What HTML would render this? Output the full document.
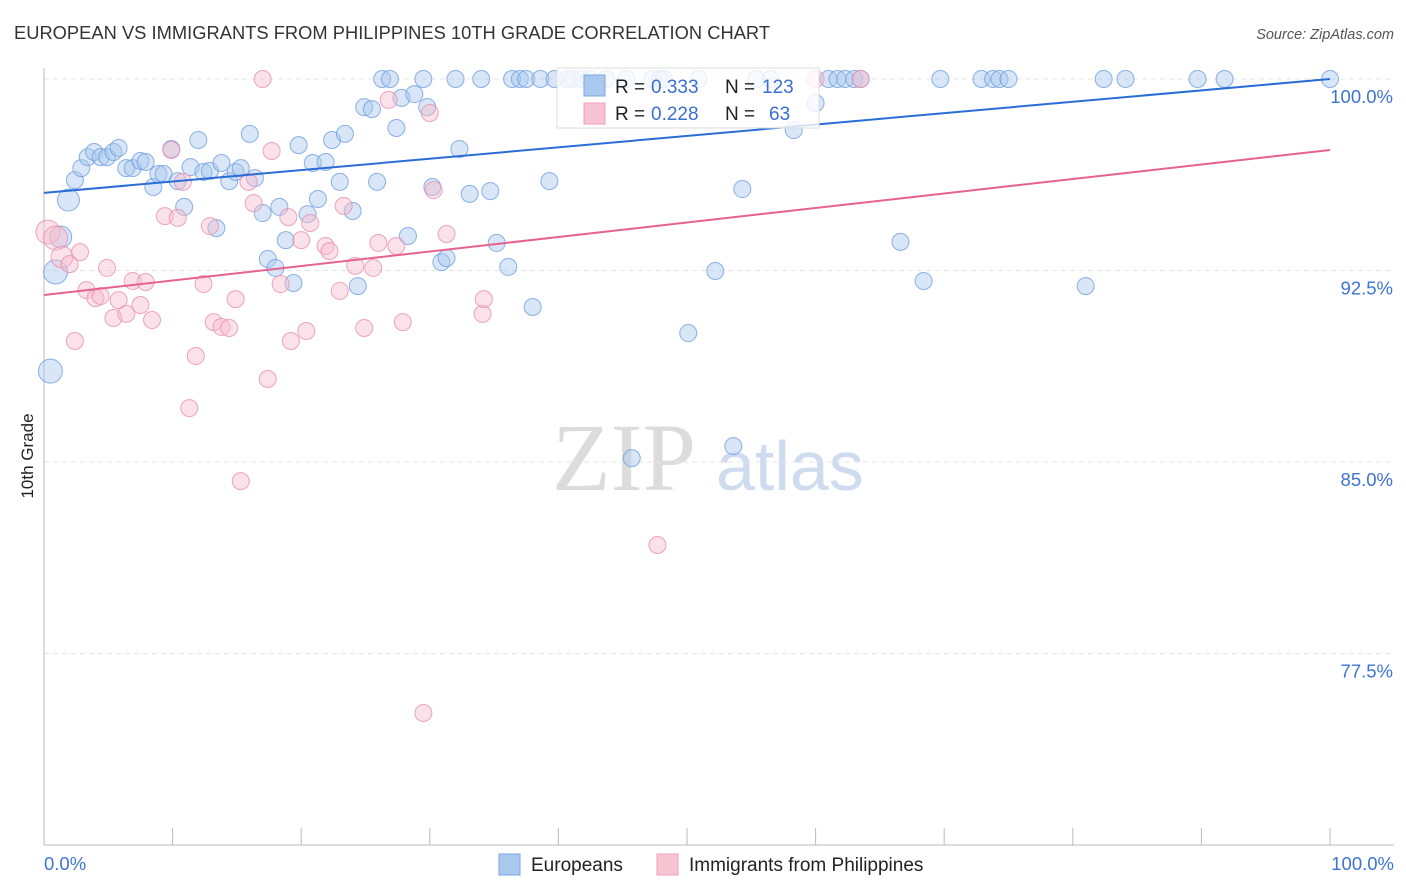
<!DOCTYPE html>
<html><head><meta charset="utf-8"><style>
body{margin:0;background:#fff;font-family:"Liberation Sans",sans-serif;}
svg{display:block}
</style></head><body>
<svg id="chart" width="1406" height="892" xmlns="http://www.w3.org/2000/svg">
<text x="14" y="39" font-size="18.3" fill="#333" textLength="756">EUROPEAN VS IMMIGRANTS FROM PHILIPPINES 10TH GRADE CORRELATION CHART</text>
<text x="1394" y="39" font-size="14.5" fill="#555" font-style="italic" text-anchor="end">Source: ZipAtlas.com</text>
<text transform="translate(33,456) rotate(-90)" font-size="17" fill="#222" text-anchor="middle">10th Grade</text>
<g><text x="552" y="490" font-size="96" font-family="Liberation Serif,serif" fill="#dcdcdc">ZIP</text><text x="716" y="490" font-size="70" fill="#cfdcf0">atlas</text></g>
<g id="grid"></g><g id="axes"></g><g id="pts"></g><g id="trends"></g>
<g>
<rect x="557" y="68" width="262" height="60" fill="#fff" fill-opacity="0.8" stroke="#ddd"/>
<rect x="584" y="75" width="21" height="21" fill="#a9c8ee" stroke="#7aa6e3"/>
<rect x="584" y="103" width="21" height="21" fill="#f8c3d3" stroke="#eea0b8"/>
<text x="615" y="93" font-size="19" fill="#222">R =</text><text x="651" y="93" font-size="19" fill="#3a6fd0">0.333</text>
<text x="725" y="93" font-size="19" fill="#222">N =</text><text x="762" y="93" font-size="19" fill="#3a6fd0">123</text>
<text x="615" y="120" font-size="19" fill="#222">R =</text><text x="651" y="120" font-size="19" fill="#3a6fd0">0.228</text>
<text x="725" y="120" font-size="19" fill="#222">N =</text><text x="769" y="120" font-size="19" fill="#3a6fd0">63</text>
</g>
<g>
<rect x="499" y="854" width="21" height="21" fill="#a9c8ee" stroke="#7aa6e3"/>
<text x="531" y="871" font-size="19" fill="#222">Europeans</text>
<rect x="657" y="854" width="21" height="21" fill="#f8c3d3" stroke="#eea0b8"/>
<text x="689" y="871" font-size="19" fill="#222">Immigrants from Philippines</text>
</g>
</svg>
<script>
const yTicks=[100,92.5,85,77.5];
const yTickLabels=["100.0%","92.5%","85.0%","77.5%"];
const xTickLabels=["0.0%","100.0%"];
const blueX=[1.9,2.4,2.9,3.4,3.9,4.4,4.9,5.4,5.8,6.4,6.9,7.5,7.9,8.5,8.9,9.3,9.9,10.4,10.9,11.4,12.0,12.4,12.9,13.4,13.8,14.4,14.9,15.3,16.0,16.4,17.0,17.4,18.0,18.3,18.8,19.4,19.8,20.5,20.9,21.3,21.9,22.4,23.0,23.4,24.0,24.4,24.9,25.5,25.9,26.3,26.9,27.4,27.8,28.3,28.8,29.5,29.8,30.2,30.9,31.3,32.0,32.3,33.1,34.0,34.7,35.2,36.1,36.4,37.0,37.5,38.0,38.6,39.3,39.7,40.7,41.1,41.8,42.4,43.7,45.3,47.3,47.9,48.2,50.1,50.9,52.2,53.6,54.3,55.4,56.5,58.3,60.0,61.0,61.7,62.3,63.0,63.5,66.6,68.4,69.7,72.9,73.8,74.3,75.0,81.0,82.4,84.1,89.7,91.8,100,45.7,0.5,0.9,1.3];
const blueY=[95.26,96.04,96.51,96.94,97.14,96.94,96.94,97.14,97.30,96.51,96.51,96.79,96.75,95.77,96.28,96.28,97.26,96.00,94.99,96.55,97.61,96.36,96.40,94.16,96.71,96.00,96.36,96.51,97.85,96.12,94.75,92.95,92.60,94.99,93.69,92.01,97.41,94.71,96.71,95.30,96.75,97.61,95.97,97.85,94.83,91.89,98.90,98.82,95.97,100,100,98.08,99.26,93.85,99.41,100,98.90,95.77,92.83,92.99,100,97.26,95.50,100,95.61,93.58,92.64,100,100,100,91.07,100,96.00,100,100,100,100,100,100,100,100,100,100,90.05,100,92.48,85.62,95.69,100,100,98.00,99.06,100,100,100,100,100,93.62,92.09,100,100,100,100,100,91.89,100,100,100,100,100,85.15,88.56,92.44,93.81];
const pinkX=[0.3,0.9,1.4,2.0,2.4,2.8,3.3,4.0,4.4,4.9,5.4,5.8,6.4,6.9,7.5,7.9,8.4,9.4,9.9,10.4,10.8,11.3,11.8,12.4,12.9,13.2,13.8,14.4,14.9,15.3,15.9,16.3,17.0,17.4,17.7,18.4,19.0,19.2,20.0,20.4,20.7,21.9,22.2,23.0,23.3,24.2,24.9,25.6,26.0,26.8,27.4,27.9,30.0,30.3,31.3,34.1,34.2,47.7,29.5,60.0,63.5];
const pinkY=[94.01,93.77,93.03,92.75,89.74,93.22,91.73,91.42,91.50,92.60,90.64,91.34,90.80,92.09,91.15,92.05,90.56,94.63,97.22,94.56,95.97,87.11,89.15,91.97,94.24,90.48,90.29,90.25,91.38,84.25,95.97,95.14,100,88.25,97.18,91.97,94.59,89.74,93.69,90.13,94.36,93.46,93.26,91.70,95.03,92.68,90.25,92.60,93.58,99.18,93.46,90.48,98.67,95.65,93.93,90.80,91.38,81.75,75.17,100,100];
const blueTrend=[95.54,100];
const pinkTrend=[91.54,97.22];
const NS="http://www.w3.org/2000/svg";
const X0=44,X1=1330,YT=79,YB=845;
const sx=v=>X0+(X1-X0)*v/100;
const sy=v=>YT+(100-v)*(YB-YT)/30;
function mk(tag,attrs,parent){const e=document.createElementNS(NS,tag);for(const k in attrs)e.setAttribute(k,attrs[k]);parent.appendChild(e);return e;}
const grid=document.getElementById('grid'),axes=document.getElementById('axes'),pts=document.getElementById('pts'),tr=document.getElementById('trends');
yTicks.forEach((t,i)=>{
 const l=mk('line',{x1:X0,x2:1394,y1:sy(t),y2:sy(t),stroke:'#e4e4e4','stroke-dasharray':'5,4'},grid);
 
 
 const tx=mk('text',{x:1393,y:sy(t)+24,'font-size':18.5,fill:'#3d74d4','text-anchor':'end'},axes);
 tx.textContent=yTickLabels[i];
 
 
});
const ax=mk('line',{x1:X0,x2:X0,y1:68,y2:YB,stroke:'#bbb'},axes);


const bx=mk('line',{x1:X0,x2:1394,y1:YB,y2:YB,stroke:'#bbb'},axes);


for(let i=0;i<=10;i++){const t=mk('line',{x1:sx(i*10),x2:sx(i*10),y1:828,y2:YB,stroke:'#bbb'},axes);
 
 }
[[0,'start',44],[100,'end',1394]].forEach((a,i)=>{const t=mk('text',{x:a[2],y:870,'font-size':18.5,fill:'#3d74d4','text-anchor':a[1]},axes);t.textContent=xTickLabels[i];
 
 });
function dots(xs,ys,fill,stroke,name){xs.forEach((x,i)=>{
 const r=(x<2&&ys[i]>88)?(x<1?12:11):8.5;
 const c=mk('circle',{cx:sx(x),cy:sy(ys[i]),r:r,fill:fill,'fill-opacity':0.45,stroke:stroke,'stroke-opacity':0.8,'stroke-width':1},pts);
 
 });}
dots(blueX,blueY,'#a9c8ee','#6f9fe0','european-point');
dots(pinkX,pinkY,'#f6bccd','#e990ad','philippines-point');
const bl=mk('line',{x1:sx(0),y1:sy(blueTrend[0]),x2:sx(100),y2:sy(blueTrend[1]),stroke:'#2a6dd6','stroke-width':2},tr);


const pl=mk('line',{x1:sx(0),y1:sy(pinkTrend[0]),x2:sx(100),y2:sy(pinkTrend[1]),stroke:'#e6628f','stroke-width':2},tr);


</script>
</body></html>
